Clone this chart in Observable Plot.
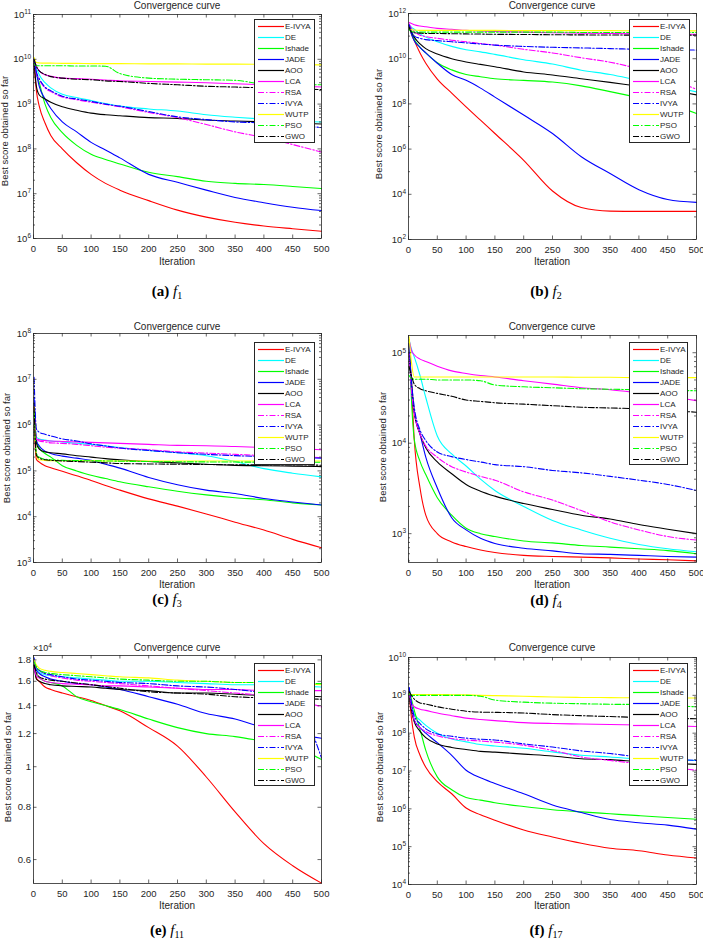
<!DOCTYPE html>
<html>
<head>
<meta charset="utf-8">
<script src="https://cdn.jsdelivr.net/npm/d3@7"></script>
<script src="https://cdn.jsdelivr.net/npm/@observablehq/plot@0.6"></script>
<style>
html,body{margin:0;padding:0;background:#fff;}
#page{position:relative;width:703px;height:940px;overflow:hidden;background:#fff;font-family:"Liberation Sans",Arial,Helvetica,sans-serif;color:#262626;}
#page svg.panel{position:absolute;}
.lbl{position:absolute;white-space:nowrap;line-height:1;}
.title{font-size:10px;}
.xlab{font-size:10px;}
.ylab{font-size:9.5px;}
.cap{font-family:"Liberation Serif","Times New Roman",serif;font-size:15px;color:#000;}
.cap sub{font-size:10px;vertical-align:baseline;position:relative;top:0.3em;}
.legend{position:absolute;background:#fff;border:0.8px solid #262626;box-sizing:border-box;}
.lrow{position:absolute;left:0;width:100%;height:11px;font-size:8px;line-height:11px;}
.lrow svg{position:absolute;left:2px;top:0;}
.lrow span{position:absolute;left:30px;top:0;white-space:nowrap;}
.mult{font-size:9px;}
.mult sup{font-size:6.5px;vertical-align:baseline;position:relative;top:-0.5em;}
</style>
</head>
<body>
<div id="page"></div>
<script>
// ---------- data ----------
const iterations = [1, 5, 10, 20, 30, 50, 75, 100, 125, 150, 200, 250, 300, 350, 400, 450, 500];
const algorithms = ["E-IVYA", "DE", "Ishade", "JADE", "AOO", "LCA", "RSA", "IVYA", "WUTP", "PSO", "GWO"];
const xTickValues = [0, 50, 100, 150, 200, 250, 300, 350, 400, 450, 500];

// f1 (rows follow the algorithms order)
const f1 = [
  [8e9, 2e9, 9e8, 3.8e8, 2e8, 1e8, 4.9e7, 2.7e7, 1.7e7, 1.2e7, 7e6, 4.3e6, 3e6, 2.3e6, 1.9e6, 1.65e6, 1.45e6],
  [1e10, 6.5e9, 4.5e9, 3e9, 2.3e9, 1.66e9, 1.4e9, 1.2e9, 1.03e9, 9e8, 7.8e8, 7e8, 5.8e8, 5.1e8, 4.6e8, 4.2e8, 4e8],
  [1e10, 5e9, 3e9, 1e9, 5e8, 2.3e8, 1.2e8, 7.6e7, 5.8e7, 4.6e7, 3e7, 2.4e7, 1.9e7, 1.7e7, 1.6e7, 1.45e7, 1.3e7],
  [1e10, 5e9, 2.5e9, 1.3e9, 8e8, 4e8, 2.4e8, 1.4e8, 9.5e7, 6.3e7, 2.7e7, 1.8e7, 1.2e7, 8.2e6, 6.3e6, 5e6, 4.2e6],
  [9e9, 2.5e9, 1.6e9, 1.3e9, 1.1e9, 8.7e8, 7.3e8, 6.3e8, 5.8e8, 5.5e8, 5e8, 4.8e8, 4.4e8, 4.2e8, 4e8, 3.8e8, 3.6e8],
  [1e10, 7e9, 5.5e9, 4.5e9, 4.2e9, 3.8e9, 3.7e9, 3.6e9, 3.45e9, 3.3e9, 3.2e9, 3.1e9, 3e9, 2.85e9, 2.7e9, 2.55e9, 2.4e9],
  [1e10, 5e9, 3.5e9, 2.3e9, 1.9e9, 1.45e9, 1.25e9, 1.1e9, 9.8e8, 8.7e8, 6.5e8, 5e8, 3.5e8, 2.4e8, 1.8e8, 1.25e8, 8.5e7],
  [1e10, 5.2e9, 3.7e9, 2.4e9, 2e9, 1.5e9, 1.3e9, 1.15e9, 1e9, 9e8, 6.8e8, 5.2e8, 4.5e8, 4e8, 3.8e8, 3.4e8, 3e8],
  [1.1e10, 8.5e9, 8.3e9, 8.2e9, 8.2e9, 8.1e9, 8.1e9, 8e9, 8e9, 8e9, 7.9e9, 7.9e9, 7.8e9, 7.8e9, 7.7e9, 7.6e9, 7.5e9],
  [8e9, 7.2e9, 7.2e9, 7.2e9, 7.2e9, 7.2e9, 7.1e9, 7.1e9, 7e9, 4.8e9, 3.8e9, 3.6e9, 3.5e9, 3.4e9, 2.8e9, 2.7e9, 2.7e9],
  [1e10, 7e9, 5.5e9, 4.6e9, 4.1e9, 3.8e9, 3.6e9, 3.5e9, 3.3e9, 3.2e9, 2.9e9, 2.7e9, 2.5e9, 2.4e9, 2.3e9, 2.2e9, 2.1e9]
];
// f2
const f2 = [
  [3e11, 1.26e11, 6.3e10, 1.8e10, 6.3e9, 1.26e9, 3e8, 7.4e7, 1.9e7, 4.9e6, 3.2e5, 1.4e4, 2.6e3, 1.8e3, 1.75e3, 1.75e3, 1.75e3],
  [3.2e11, 2.5e11, 2e11, 1.26e11, 9e10, 5.6e10, 3.5e10, 2.5e10, 2e10, 1.55e10, 9e9, 5.8e9, 3.1e9, 2e9, 1.1e9, 6.3e8, 3.4e8],
  [3e11, 1.4e11, 7e10, 3.2e10, 1.8e10, 6.6e9, 3.2e9, 2e9, 1.6e9, 1.3e9, 1.1e9, 9.3e8, 6.3e8, 3.5e8, 1.9e8, 1e8, 3.8e7],
  [3e11, 1.26e11, 6.3e10, 3.2e10, 1.8e10, 6.3e9, 2e9, 1.1e9, 5e8, 2e8, 3.2e7, 4.9e6, 4.6e5, 8.3e4, 1.6e4, 5.9e3, 4.4e3],
  [3e11, 1.6e11, 9e10, 4.5e10, 2.8e10, 1.6e10, 1e10, 7.2e9, 5.6e9, 4.4e9, 2.6e9, 1.9e9, 1.3e9, 9e8, 6e8, 4.2e8, 2.5e8],
  [4e11, 3.6e11, 3.2e11, 2.8e11, 2.6e11, 2.2e11, 2e11, 1.8e11, 1.7e11, 1.6e11, 1.5e11, 1.4e11, 1.35e11, 1.3e11, 1.25e11, 1.2e11, 1.2e11],
  [3.5e11, 2.2e11, 1.6e11, 1.1e11, 9.5e10, 8e10, 6.6e10, 5.6e10, 4.7e10, 4e10, 2.6e10, 1.8e10, 1.1e10, 7e9, 3.5e9, 1.4e9, 4.4e8],
  [3.2e11, 1.6e11, 1e11, 8e10, 7e10, 6.3e10, 5.6e10, 5e10, 4.5e10, 4e10, 3.5e10, 3.2e10, 3e10, 2.8e10, 2.6e10, 2.5e10, 2.4e10],
  [2.2e11, 1.9e11, 1.85e11, 1.8e11, 1.8e11, 1.8e11, 1.8e11, 1.8e11, 1.8e11, 1.8e11, 1.75e11, 1.75e11, 1.75e11, 1.75e11, 1.7e11, 1.7e11, 1.7e11],
  [2e11, 1.6e11, 1.55e11, 1.5e11, 1.5e11, 1.5e11, 1.5e11, 1.5e11, 1.5e11, 1.5e11, 1.5e11, 1.5e11, 1.45e11, 1.45e11, 1.45e11, 1.45e11, 1.45e11],
  [2.5e11, 1.5e11, 1.4e11, 1.35e11, 1.3e11, 1.3e11, 1.28e11, 1.25e11, 1.23e11, 1.2e11, 1.18e11, 1.15e11, 1.13e11, 1.12e11, 1.1e11, 1.1e11, 1.1e11]
];
// f3
const f3 = [
  [1e6, 1.8e5, 1.55e5, 1.3e5, 1.17e5, 9.8e4, 7.8e4, 6.2e4, 4.8e4, 3.8e4, 2.45e4, 1.7e4, 1.15e4, 7.6e3, 5.1e3, 3.2e3, 2.1e3],
  [3e6, 5.5e5, 5e5, 4.7e5, 4.5e5, 4.3e5, 4e5, 3.8e5, 3.55e5, 3.25e5, 2.8e5, 2.5e5, 2.15e5, 1.6e5, 1.12e5, 8.9e4, 7.4e4],
  [2e6, 4.6e5, 3.2e5, 2.4e5, 2e5, 1.3e5, 1e5, 8e4, 6.8e4, 5.8e4, 4.5e4, 3.6e4, 3e4, 2.6e4, 2.35e4, 2e4, 1.8e4],
  [4e6, 4.6e5, 3.5e5, 2.7e5, 2.4e5, 2.1e5, 1.9e5, 1.7e5, 1.4e5, 1.15e5, 7.2e4, 5e4, 3.8e4, 3.2e4, 2.5e4, 2.1e4, 1.8e4],
  [3e6, 4e5, 3e5, 2.6e5, 2.5e5, 2.35e5, 2.15e5, 2e5, 1.85e5, 1.75e5, 1.6e5, 1.5e5, 1.4e5, 1.32e5, 1.3e5, 1.27e5, 1.24e5],
  [2.5e6, 5e5, 4.8e5, 4.6e5, 4.5e5, 4.4e5, 4.3e5, 4.2e5, 4.1e5, 4e5, 3.8e5, 3.6e5, 3.55e5, 3.4e5, 3.25e5, 3.1e5, 2.9e5],
  [2.5e6, 4.8e5, 4.5e5, 4.3e5, 4.1e5, 4e5, 3.8e5, 3.55e5, 3.3e5, 3.15e5, 2.9e5, 2.6e5, 2.45e5, 2.3e5, 2.15e5, 2.05e5, 1.95e5],
  [1.1e7, 8.3e5, 7e5, 6.3e5, 5.8e5, 5e5, 4.5e5, 3.9e5, 3.5e5, 3.15e5, 2.8e5, 2.5e5, 2.3e5, 2.15e5, 2.05e5, 1.95e5, 1.9e5],
  [2.5e6, 2.2e5, 1.75e5, 1.7e5, 1.68e5, 1.67e5, 1.66e5, 1.66e5, 1.65e5, 1.65e5, 1.65e5, 1.65e5, 1.65e5, 1.65e5, 1.65e5, 1.65e5, 1.65e5],
  [2e6, 2.4e5, 2e5, 1.8e5, 1.75e5, 1.7e5, 1.68e5, 1.66e5, 1.65e5, 1.63e5, 1.6e5, 1.58e5, 1.57e5, 1.56e5, 1.55e5, 1.55e5, 1.55e5],
  [2.5e6, 2.2e5, 1.9e5, 1.75e5, 1.7e5, 1.65e5, 1.6e5, 1.55e5, 1.5e5, 1.45e5, 1.42e5, 1.4e5, 1.38e5, 1.36e5, 1.35e5, 1.35e5, 1.33e5]
];
// f4
const f4 = [
  [1.26e5, 4.5e4, 1.1e4, 3.2e3, 1.6e3, 1e3, 810, 720, 660, 620, 575, 560, 550, 540, 525, 515, 500],
  [1.4e5, 1.1e5, 9e4, 5.6e4, 3.2e4, 1.2e4, 7.6e3, 5.6e3, 4e3, 3e3, 2e3, 1.4e3, 1.1e3, 890, 760, 680, 630],
  [1.4e5, 3.2e4, 1.1e4, 6.3e3, 4.5e3, 2.5e3, 1.6e3, 1.15e3, 1e3, 930, 830, 790, 740, 710, 680, 650, 600],
  [1.26e5, 4e4, 2.2e4, 1.26e4, 7e3, 3.2e3, 1.5e3, 1.1e3, 890, 780, 690, 645, 600, 590, 575, 560, 550],
  [1e5, 5e4, 2.2e4, 1.26e4, 8.9e3, 6.2e3, 4.6e3, 3.5e3, 2.95e3, 2.6e3, 2.15e3, 1.85e3, 1.6e3, 1.45e3, 1.26e3, 1.12e3, 1e3],
  [1.4e5, 1.07e5, 9.5e4, 8.5e4, 8e4, 7.1e4, 6.3e4, 5.9e4, 5.6e4, 5.4e4, 4.9e4, 4.5e4, 4.1e4, 3.9e4, 3.6e4, 3.3e4, 2.95e4],
  [1e5, 4e4, 2.2e4, 1.26e4, 9.3e3, 7e3, 5.5e3, 4.8e3, 4.3e3, 3.9e3, 2.9e3, 2.35e3, 1.8e3, 1.35e3, 1.1e3, 930, 850],
  [1.26e5, 5e4, 2.5e4, 1.4e4, 1.07e4, 8e3, 7.1e3, 6.6e3, 6.2e3, 5.8e3, 5.5e3, 5e3, 4.7e3, 4.3e3, 3.9e3, 3.5e3, 3e3],
  [1.5e5, 8e4, 5.4e4, 5.4e4, 5.4e4, 5.4e4, 5.4e4, 5.4e4, 5.4e4, 5.4e4, 5.4e4, 5.4e4, 5.35e4, 5.35e4, 5.3e4, 5.3e4, 5.3e4],
  [5.6e4, 5.2e4, 5.1e4, 5.1e4, 5.1e4, 5e4, 5e4, 5e4, 4.9e4, 4.4e4, 4.2e4, 4.1e4, 4e4, 3.95e4, 3.9e4, 3.85e4, 3.8e4],
  [7e4, 5.6e4, 4.5e4, 4e4, 3.8e4, 3.55e4, 3.3e4, 3e4, 2.9e4, 2.8e4, 2.7e4, 2.6e4, 2.5e4, 2.45e4, 2.4e4, 2.3e4, 2.2e4]
];
// f11
const f11 = [
  [1.8e4, 1.63e4, 1.6e4, 1.55e4, 1.53e4, 1.5e4, 1.47e4, 1.44e4, 1.4e4, 1.36e4, 1.24e4, 1.12e4, 9.45e3, 7.8e3, 6.55e3, 5.8e3, 5.27e3],
  [1.8e4, 1.72e4, 1.68e4, 1.66e4, 1.65e4, 1.64e4, 1.63e4, 1.62e4, 1.61e4, 1.6e4, 1.6e4, 1.59e4, 1.58e4, 1.57e4, 1.57e4, 1.56e4, 1.55e4],
  [1.75e4, 1.66e4, 1.63e4, 1.6e4, 1.59e4, 1.56e4, 1.47e4, 1.43e4, 1.4e4, 1.37e4, 1.3e4, 1.24e4, 1.2e4, 1.18e4, 1.15e4, 1.12e4, 1.04e4],
  [1.78e4, 1.7e4, 1.67e4, 1.64e4, 1.62e4, 1.6e4, 1.58e4, 1.57e4, 1.55e4, 1.53e4, 1.47e4, 1.41e4, 1.34e4, 1.3e4, 1.24e4, 1.2e4, 1.17e4],
  [1.75e4, 1.62e4, 1.6e4, 1.58e4, 1.57e4, 1.56e4, 1.555e4, 1.55e4, 1.54e4, 1.53e4, 1.52e4, 1.5e4, 1.5e4, 1.49e4, 1.48e4, 1.48e4, 1.47e4],
  [1.72e4, 1.65e4, 1.63e4, 1.6e4, 1.59e4, 1.58e4, 1.575e4, 1.57e4, 1.56e4, 1.56e4, 1.55e4, 1.54e4, 1.53e4, 1.53e4, 1.52e4, 1.52e4, 1.52e4],
  [1.78e4, 1.72e4, 1.7e4, 1.67e4, 1.65e4, 1.63e4, 1.61e4, 1.6e4, 1.59e4, 1.58e4, 1.56e4, 1.54e4, 1.52e4, 1.5e4, 1.48e4, 1.45e4, 1.39e4],
  [1.82e4, 1.73e4, 1.7e4, 1.67e4, 1.66e4, 1.64e4, 1.62e4, 1.61e4, 1.6e4, 1.59e4, 1.58e4, 1.56e4, 1.55e4, 1.53e4, 1.5e4, 1.45e4, 1.05e4],
  [1.8e4, 1.75e4, 1.72e4, 1.7e4, 1.69e4, 1.68e4, 1.67e4, 1.66e4, 1.65e4, 1.64e4, 1.63e4, 1.61e4, 1.6e4, 1.59e4, 1.59e4, 1.58e4, 1.57e4],
  [1.78e4, 1.73e4, 1.7e4, 1.68e4, 1.67e4, 1.66e4, 1.65e4, 1.64e4, 1.63e4, 1.62e4, 1.61e4, 1.6e4, 1.6e4, 1.59e4, 1.59e4, 1.58e4, 1.58e4],
  [1.75e4, 1.68e4, 1.64e4, 1.62e4, 1.61e4, 1.6e4, 1.585e4, 1.57e4, 1.555e4, 1.54e4, 1.51e4, 1.5e4, 1.49e4, 1.47e4, 1.46e4, 1.455e4, 1.45e4]
];
// f17
const f17 = [
  [1.2e9, 2.6e8, 8e7, 2.6e7, 1.25e7, 5.2e6, 2.5e6, 1.05e6, 7e5, 5e5, 2.75e5, 1.8e5, 1.23e5, 9.1e4, 7.8e4, 6e4, 5e4],
  [1.26e9, 5.6e8, 3.2e8, 2.2e8, 1.6e8, 1e8, 7e7, 5.9e7, 5e7, 4.6e7, 4e7, 3.2e7, 2.6e7, 2.35e7, 2.1e7, 2e7, 1.9e7],
  [1.5e9, 8e8, 4e8, 1.26e8, 3.5e7, 7e6, 3.2e6, 2e6, 1.7e6, 1.45e6, 1.15e6, 9.5e5, 8.3e5, 7.4e5, 6.6e5, 5.9e5, 5.3e5],
  [1.6e9, 5e8, 2.2e8, 1.4e8, 1e8, 5.6e7, 2.6e7, 1.05e7, 6.6e6, 4.7e6, 2.5e6, 1.26e6, 8e5, 5.2e5, 4.3e5, 3.7e5, 2.9e5],
  [1e9, 4e8, 2e8, 1.12e8, 7.6e7, 5.2e7, 4.2e7, 3.7e7, 3.3e7, 3.15e7, 2.8e7, 2.5e7, 2.1e7, 2e7, 1.75e7, 1.6e7, 1.5e7],
  [1.26e9, 6.3e8, 5e8, 4.3e8, 4e8, 3.4e8, 2.9e8, 2.5e8, 2.3e8, 2.15e8, 1.9e8, 1.8e8, 1.75e8, 1.7e8, 1.65e8, 1.6e8, 1.5e8],
  [1.26e9, 5e8, 2.2e8, 1.4e8, 1.1e8, 8.5e7, 7.2e7, 6.6e7, 6.2e7, 5.8e7, 4.8e7, 3.5e7, 2.35e7, 1.9e7, 1.55e7, 1.26e7, 1.05e7],
  [1.6e9, 6.3e8, 2.8e8, 1.8e8, 1.3e8, 9.5e7, 8.3e7, 7.4e7, 6.9e7, 6.6e7, 5.2e7, 4.3e7, 3.4e7, 2.9e7, 2.35e7, 2.1e7, 1.9e7],
  [1.1e9, 1.05e9, 1.05e9, 1.05e9, 1.05e9, 1.05e9, 1.04e9, 1.03e9, 1e9, 9.8e8, 9.5e8, 9e8, 8.8e8, 8.7e8, 8.6e8, 8.5e8, 8.5e8],
  [1.1e9, 1e9, 1e9, 1e9, 1e9, 1e9, 1e9, 1e9, 9.5e8, 7.5e8, 6.6e8, 6.2e8, 6e8, 5.8e8, 5.7e8, 5.3e8, 5e8],
  [1.26e9, 1e9, 8e8, 6.3e8, 5.9e8, 5e8, 4.3e8, 3.8e8, 3.6e8, 3.55e8, 3.4e8, 3.1e8, 2.9e8, 2.75e8, 2.6e8, 2.5e8, 2.4e8]
];

// y tick values per panel
const f1YTicks = [1e6, 1e7, 1e8, 1e9, 1e10, 1e11];
const f2YTicks = [1e2, 1e4, 1e6, 1e8, 1e10, 1e12];
const f3YTicks = [1e3, 1e4, 1e5, 1e6, 1e7, 1e8];
const f4YTicks = [1e3, 1e4, 1e5];
const f11YTicks = [6000, 8000, 10000, 12000, 14000, 16000, 18000];
const f17YTicks = [1e4, 1e5, 1e6, 1e7, 1e8, 1e9, 1e10];

// ---------- styles ----------
const lineColors = ["#ff0000", "#00ffff", "#00ff00", "#0000ff", "#000000", "#ff00ff", "#ff00ff", "#0000ff", "#ffff00", "#00ff00", "#000000"];
const lineDash = [null, null, null, null, null, null, "6,2,1.5,2", "6,2,1.5,2", null, "6,2,1.5,2", "6,2,1.5,2"];
const axisColor = "#262626";

function logMinor(domain) {
  const out = [];
  const lo = Math.floor(Math.log10(domain[0])), hi = Math.ceil(Math.log10(domain[1]));
  for (let n = lo; n <= hi; n++) {
    for (let m = 2; m <= 9; m++) {
      const v = m * Math.pow(10, n);
      if (v >= domain[0] && v <= domain[1]) out.push(v);
    }
  }
  return out;
}
const logFmt = d => "10^" + Math.round(Math.log10(d));

const panels = [
  {tag: "a", fsub: "1", data: f1, domain: [1e6, 1e11], yTicks: f1YTicks, minor: logMinor([1e6, 1e11]), fmt: logFmt,
   col: 0, box: [33, 14, 321, 238], title: [177, 6], xlab: [177, 262], ylab: [5, 131], cap: [167, 291], legend: [254, 19, 61, 124]},
  {tag: "b", fsub: "2", data: f2, domain: [1e2, 1e12], yTicks: f2YTicks, minor: [1e3, 1e5, 1e7, 1e9, 1e11], fmt: logFmt,
   col: 352, box: [408, 13, 696, 239], title: [552, 6], xlab: [552, 262], ylab: [379, 124], cap: [546, 291], legend: [629, 19, 61, 124]},
  {tag: "c", fsub: "3", data: f3, domain: [1e3, 1e8], yTicks: f3YTicks, minor: logMinor([1e3, 1e8]), fmt: logFmt,
   col: 0, box: [33, 333, 321, 562], title: [177, 327], xlab: [177, 585], ylab: [7, 448], cap: [167, 599], legend: [254, 342, 61, 123]},
  {tag: "d", fsub: "4", data: f4, domain: [480, 1.55e5], yTicks: f4YTicks, minor: logMinor([480, 1.55e5]), fmt: logFmt,
   col: 352, box: [408, 335, 696, 562], title: [552, 327], xlab: [552, 585], ylab: [383, 447], cap: [546, 600], legend: [629, 342, 59, 123]},
  {tag: "e", fsub: "11", data: f11, domain: [5260, 18440], yTicks: f11YTicks, minor: [], fmt: d => String(+(d / 1e4).toFixed(1)),
   col: 0, box: [33, 655, 321, 883], title: [177, 648], xlab: [177, 906], ylab: [8, 767], cap: [167, 930], legend: [254, 663, 61, 123], mult: true},
  {tag: "f", fsub: "17", data: f17, domain: [1e4, 1e10], yTicks: f17YTicks, minor: logMinor([1e4, 1e10]), fmt: logFmt,
   col: 352, box: [408, 657, 696, 884], title: [552, 648], xlab: [552, 906], ylab: [380, 767], cap: [546, 930], legend: [629, 663, 59, 123]}
];

const page = document.getElementById("page");
const SVGNS = "http://www.w3.org/2000/svg";

function addLabel(html, x, y, cls, rotate) {
  const d = document.createElement("div");
  d.className = "lbl " + cls;
  d.innerHTML = html;
  d.style.left = x + "px";
  d.style.top = y + "px";
  d.style.transform = "translate(-50%,-50%)" + (rotate ? " rotate(-90deg)" : "");
  page.appendChild(d);
}

function addLegend(x, y, w, h) {
  const box = document.createElement("div");
  box.className = "legend";
  box.style.left = x + "px"; box.style.top = y + "px";
  box.style.width = w + "px"; box.style.height = h + "px";
  algorithms.forEach((a, k) => {
    const row = document.createElement("div");
    row.className = "lrow";
    row.style.top = (1.2 + 11 * k) + "px";
    const dash = lineDash[k] ? ` stroke-dasharray="${lineDash[k]}"` : "";
    row.innerHTML = `<svg width="28" height="11"><line x1="1" x2="27" y1="5.5" y2="5.5" stroke="${lineColors[k]}" stroke-width="1.2"${dash}/></svg><span>${a}</span>`;
    box.appendChild(row);
  });
  page.appendChild(box);
}

function render(p) {
  const W = 351, mT = 10, mB = 30;
  const [x0, y0, x1, y1] = p.box;
  const mL = x0 - p.col, mR = p.col + W - x1;
  const plotW = x1 - x0, plotH = y1 - y0;
  const H = plotH + mT + mB;
  const rows = p.data.flatMap((vals, k) => vals.map((v, i) => ({k, alg: algorithms[k], it: iterations[i], v})));
  const marks = [];
  algorithms.forEach((a, k) => {
    const opts = {x: "it", y: "v", stroke: lineColors[k], strokeWidth: 1.1, curve: "monotone-x"};
    if (lineDash[k]) opts.strokeDasharray = lineDash[k];
    marks.push(Plot.line(rows.filter(r => r.k === k), opts));
  });
  const tk = {stroke: axisColor, strokeWidth: 0.7};
  marks.push(Plot.tickX(xTickValues, {x: d => d, insetTop: plotH - 3.5, ...tk}));
  marks.push(Plot.tickX(xTickValues, {x: d => d, insetBottom: plotH - 3.5, ...tk}));
  marks.push(Plot.tickY(p.yTicks, {y: d => d, insetRight: plotW - 3.5, ...tk}));
  marks.push(Plot.tickY(p.yTicks, {y: d => d, insetLeft: plotW - 3.5, ...tk}));
  if (p.minor.length) {
    marks.push(Plot.tickY(p.minor, {y: d => d, insetRight: plotW - 2, ...tk}));
    marks.push(Plot.tickY(p.minor, {y: d => d, insetLeft: plotW - 2, ...tk}));
  }
  marks.push(Plot.frame({stroke: axisColor, strokeWidth: 0.8}));
  marks.push(Plot.axisX({ticks: xTickValues, tickSize: 0, tickPadding: 6.5, label: null, tickFormat: d => String(d)}));
  marks.push(Plot.axisY({ticks: p.yTicks, tickSize: 0, tickPadding: 2.5, label: null, tickFormat: p.fmt}));

  const svg = Plot.plot({
    width: W, height: H,
    marginLeft: mL, marginRight: mR, marginTop: mT, marginBottom: mB,
    style: {fontFamily: "'Liberation Sans', Arial, Helvetica, sans-serif", fontSize: "9.5px", color: axisColor, background: "transparent", overflow: "visible"},
    x: {domain: [0, 500]},
    y: {type: "log", domain: p.domain},
    marks
  });
  svg.classList.add("panel");
  svg.style.position = "absolute";
  svg.style.left = p.col + "px";
  svg.style.top = (y0 - mT) + "px";
  // superscript exponents in the log tick labels
  svg.querySelectorAll("text").forEach(t => {
    const m = /^10\^(-?\d+)$/.exec(t.textContent);
    if (m) {
      t.textContent = "10";
      const ts = document.createElementNS(SVGNS, "tspan");
      ts.setAttribute("dy", "-0.5em");
      ts.setAttribute("font-size", "6.5");
      ts.textContent = m[1];
      t.appendChild(ts);
    }
  });
  page.appendChild(svg);

  addLabel("Convergence curve", p.title[0], p.title[1], "title");
  addLabel("Iteration", p.xlab[0], p.xlab[1], "xlab");
  addLabel("Best score obtained so far", p.ylab[0], p.ylab[1], "ylab", true);
  addLabel(`<b>(${p.tag})</b>&nbsp;<i>f</i><sub>${p.fsub}</sub>`, p.cap[0], p.cap[1], "cap");
  addLegend(...p.legend);
  if (p.mult) {
    const d = document.createElement("div");
    d.className = "lbl mult";
    d.innerHTML = "×10<sup>4</sup>";
    d.style.left = x0 + "px";
    d.style.top = (y0 - 11) + "px";
    page.appendChild(d);
  }
}

panels.forEach(render);
</script>
</body>
</html>
